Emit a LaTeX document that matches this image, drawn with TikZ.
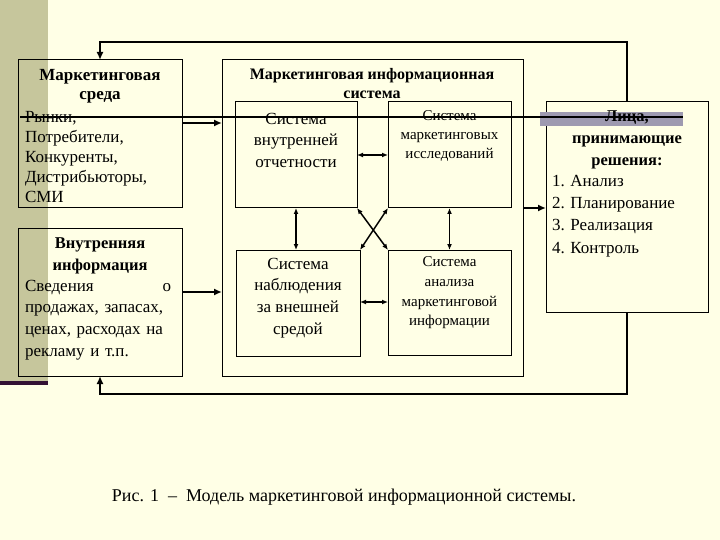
\documentclass[tikz,border=0pt]{standalone}
\usepackage{fontspec}
\setmainfont{Liberation Serif}
\usetikzlibrary{arrows.meta}
\definecolor{bg}{HTML}{FFFFE6}
\definecolor{olive}{HTML}{C6C69C}
\definecolor{plum}{HTML}{331133}
\definecolor{band}{HTML}{9E9AB0}
\begin{document}
\begin{tikzpicture}[x=1pt,y=-1pt,
  box/.style={draw, line width=1pt, inner sep=0pt, outer sep=0pt},
  txt/.style={inner sep=0pt, outer sep=0pt},
  fbig/.style={font=\fontsize{17}{20}\selectfont},
  conn/.style={line width=2.6pt, -{Latex[length=8pt,width=7pt]}},
  dbl/.style={line width=1.5pt, {Latex[length=6pt,width=5pt]}-{Latex[length=6pt,width=5pt]}}]
\useasboundingbox (0,0) rectangle (720,540);
\fill[bg] (0,0) rectangle (720,540);
\fill[olive] (0,0) rectangle (48,381);
\fill[plum] (0,381) rectangle (48,385);
% boxes
\node[box, minimum width=164pt, minimum height=148pt] (env) at (100,134) {};
\node[box, minimum width=164pt, minimum height=147pt] (int) at (100,302.5) {};
\node[box, minimum width=301pt, minimum height=316pt] (mis) at (372.5,218) {};
\node[box, minimum width=122pt, minimum height=106pt] (a) at (296,155) {};
\node[box, minimum width=123pt, minimum height=106pt] (b) at (449.5,155) {};
\node[box, minimum width=124pt, minimum height=106pt] (c) at (298,303) {};
\node[box, minimum width=123pt, minimum height=105pt] (d) at (449.5,302.5) {};
\node[box, minimum width=162pt, minimum height=210pt] (lpr) at (627,207) {};
\fill[band] (540,112) rectangle (683,126);
% texts
\node[txt, align=center, font=\bfseries\fontsize{17}{19}\selectfont] (envh) at (100,86) {Маркетинговая\\среда};
\node[txt, align=left, fbig, anchor=west] (envt) at (25,157) {Рынки,\\Потребители,\\Конкуренты,\\Дистрибьюторы,\\СМИ};
\node[txt, align=center, font=\bfseries\fontsize{16.5}{22}\selectfont] (inth) at (100,256) {Внутренняя\\информация};
\node[txt, text width=146pt, align=left, font=\fontsize{17}{21.7}\selectfont, anchor=west] (intt) at (25,320) {Сведения\hfill о\\продажах, запасах,\\ценах, расходах на\\рекламу и т.п.};
\node[txt, align=center, font=\bfseries\fontsize{16}{19}\selectfont] (mish) at (372,84) {Маркетинговая информационная\\система};
\node[txt, align=center, font=\fontsize{17}{21.5}\selectfont] (at) at (296,140) {Система\\внутренней\\отчетности};
\node[txt, align=center, font=\fontsize{15}{19}\selectfont] (bt) at (449.5,136) {Система\\маркетинговых\\исследований};
\node[txt, align=center, font=\fontsize{17}{21.7}\selectfont] (ct) at (298,298) {Система\\наблюдения\\за внешней\\средой};
\node[txt, align=center, font=\fontsize{15}{19.7}\selectfont] (dt) at (449.5,293) {Система\\анализа\\маркетинговой\\информации};
\node[txt, align=center, font=\bfseries\fontsize{16.5}{22}\selectfont] (lprh) at (627,140) {Лица,\\принимающие\\решения:};
\node[txt, align=left, font=\fontsize{17}{22.3}\selectfont, anchor=west] (lprt) at (552,216) {1. Анализ\\2. Планирование\\3. Реализация\\4. Контроль};
\node[txt, font=\fontsize{18}{21}\selectfont] (cap) at (344,497) {Рис. 1 \ – \ Модель маркетинговой информационной системы.};
% decorative line
\coordinate (dl1) at (20,117);
\coordinate (dl2) at (683,117);
\draw[line width=1.8pt] (dl1) -- (dl2);
% loops
\coordinate (topc) at (0,42);
\coordinate (botc) at (0,394);
\draw[conn] (lpr.north) -- (lpr.north |- topc) -- (env.north |- topc) -- (env.north);
\draw[conn] (lpr.south) -- (lpr.south |- botc) -- (int.south |- botc) -- (int.south);
% inputs
\draw[conn] (env.east |- 0,123) -- (mis.west |- 0,123);
\draw[conn] (int.east |- 0,292) -- (mis.west |- 0,292);
\draw[conn] (mis.east |- 0,208) -- (lpr.west |- 0,208);
% inner
\draw[dbl] (a.east |- 0,155) -- (b.west |- 0,155);
\draw[dbl] (c.east |- 0,302) -- (d.west |- 0,302);
\draw[dbl] (a.south) -- (a.south |- c.north);
\draw[dbl] (b.south) -- (b.south |- d.north);
\draw[dbl] (a.south east) -- (d.north west);
\draw[dbl] (b.south west) -- (c.north east);
\end{tikzpicture}
\end{document}
